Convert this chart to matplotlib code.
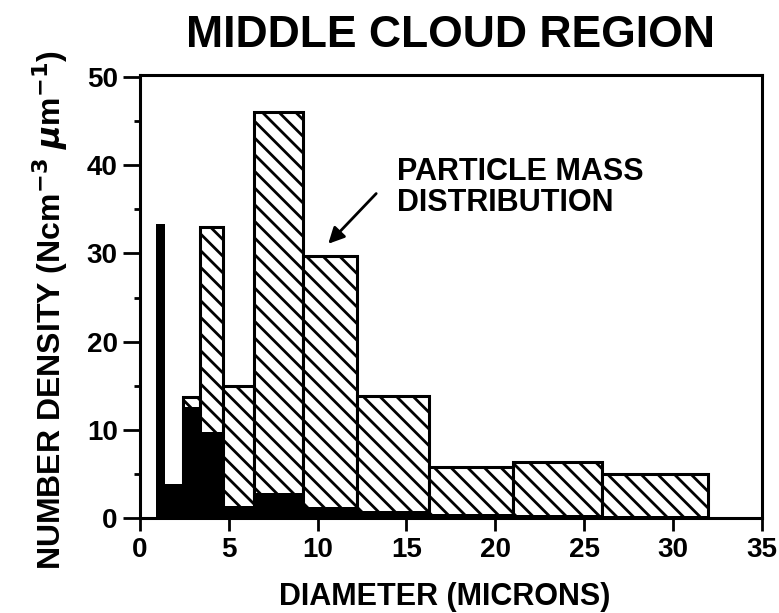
import numpy as np
import matplotlib
matplotlib.use("Agg")
import matplotlib.pyplot as plt

# bin edges (microns) shared by both distributions
edges = [0.9, 1.4, 2.4, 3.4, 4.7, 6.4, 9.2, 12.2, 16.3, 21.0, 26.0, 32.0]
# particle mass distribution (hatched)
mass_vals = [0.0, 0.0, 13.7, 33.0, 15.0, 46.0, 29.7, 13.8, 5.8, 6.3, 5.0]
# number density (solid black)
number_vals = [33.3, 3.8, 12.6, 9.8, 1.4, 2.8, 1.3, 0.8, 0.5, 0.3, 0.2]

xticks = [0, 5, 10, 15, 20, 25, 30, 35]
yticks = [0, 10, 20, 30, 40, 50]

plt.rcParams['font.family'] = ['Liberation Sans', 'DejaVu Sans']
plt.rcParams['font.weight'] = 'bold'
plt.rcParams['hatch.linewidth'] = 2.0

fig = plt.figure(figsize=(7.79, 6.13), dpi=100)
ax = fig.add_axes([0.1797, 0.155, 0.798, 0.7227])

left = np.array(edges[:-1])
widths = np.diff(edges)

ax.bar(left, mass_vals, width=widths, align='edge', facecolor='white',
       edgecolor='black', hatch='\\\\', linewidth=2.2, zorder=2)
ax.bar(left, number_vals, width=widths, align='edge', color='black',
       linewidth=0, zorder=3)

ax.set_xlim(0, 35)
ax.set_ylim(0, 50.25)
ax.set_xticks(xticks)
ax.set_yticks(yticks)
ax.set_yticks(np.arange(5, 50, 10), minor=True)

for s in ax.spines.values():
    s.set_linewidth(2.2)

ax.tick_params(axis='x', direction='out', length=9, width=2, labelsize=20, pad=5)
ax.tick_params(axis='y', which='major', direction='out', length=12, width=2,
               labelsize=20, pad=4)
ax.tick_params(axis='y', which='minor', direction='out', length=4, width=2)
for lab in ax.get_xticklabels() + ax.get_yticklabels():
    lab.set_fontweight('bold')

fig.text(0.5712, 0.026, 'DIAMETER (MICRONS)', fontsize=22, fontweight='bold',
         ha='center', va='center')
fig.text(0.064, 0.494,
         'NUMBER DENSITY (Ncm$^{\\mathbf{-3}}$ $\\mu$m$^{\\mathbf{-1}}$)',
         fontsize=23, fontweight='bold', rotation=90, ha='center', va='center')
fig.text(0.578, 0.942, 'MIDDLE CLOUD REGION', fontsize=32, fontweight='bold',
         ha='center', va='center')

ax.text(14.45, 41.0, 'PARTICLE MASS\nDISTRIBUTION', fontsize=22,
        fontweight='bold', ha='left', va='top', linespacing=1.05)
ax.annotate('', xy=(10.6, 31.1), xytext=(13.3, 36.8),
            arrowprops=dict(arrowstyle='-|>', color='black', lw=2,
                            mutation_scale=24, shrinkA=0, shrinkB=0))

fig.savefig('out.png', dpi=100)
